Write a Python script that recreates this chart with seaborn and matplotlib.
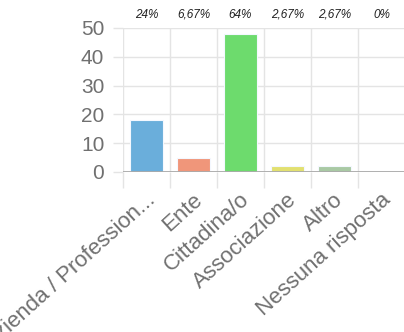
import matplotlib
matplotlib.use("Agg")
import matplotlib.pyplot as plt
import matplotlib.transforms as mtransforms
import seaborn as sns
import numpy as np

categories = ["Azienda / Profession...", "Ente", "Cittadina/o", "Associazione", "Altro", "Nessuna risposta"]
counts = [18, 5, 48, 2, 2, 0]
percent_labels = ["24%", "6,67%", "64%", "2,67%", "2,67%", "0%"]
bar_colors = ["#6aaedb", "#f0967a", "#6ddb6d", "#e2e070", "#a9c9a4", "#cccccc"]

sns.set_style("white")
plt.rcParams["font.family"] = ["Liberation Sans", "DejaVu Sans"]

fig = plt.figure(figsize=(4.04, 3.32), dpi=100)
ax = fig.add_axes([0.3045, 0.482, 0.698, 0.4337])

sns.barplot(x=categories, y=counts, hue=categories, palette=bar_colors,
            legend=False, width=0.72, ax=ax, edgecolor="#f4f8ff", linewidth=0.8,
            saturation=1, zorder=3)

ax.set_xlim(-0.5, 5.5)
ax.set_ylim(0, 50)
ax.set_yticks([0, 10, 20, 30, 40, 50])
ax.set_xticks(np.arange(-0.5, 6, 1), minor=True)
ax.grid(True, axis="y", color="#e4e4e4", linewidth=1, zorder=0)
ax.grid(True, axis="x", which="minor", color="#e4e4e4", linewidth=1, zorder=0)
ax.grid(False, axis="x", which="major")
ax.axhline(0, color="#aaaaaa", linewidth=1.3, zorder=4)
for s in ax.spines.values():
    s.set_visible(False)

ax.tick_params(axis="y", length=7, color="#e4e4e4", width=1, labelsize=15,
               labelcolor="#707070", pad=6.5, left=True)
ax.tick_params(axis="x", which="minor", length=11.5, color="#e4e4e4", width=1, bottom=True)
ax.tick_params(axis="x", which="major", length=0, labelsize=16, labelcolor="#707070", pad=18)
shift = mtransforms.ScaledTranslation(0.06, 0, fig.dpi_scale_trans)
for lbl in ax.get_xticklabels():
    lbl.set_rotation(42)
    lbl.set_ha("right")
    lbl.set_va("center")
    lbl.set_rotation_mode("anchor")
    lbl.set_transform(lbl.get_transform() + shift)

for i, lab in enumerate(percent_labels):
    ax.text(i, 1.05, lab, transform=ax.get_xaxis_transform(), ha="center", va="bottom",
            fontsize=8.5, style="italic", color="#222222")

fig.savefig("out.png", dpi=100)
